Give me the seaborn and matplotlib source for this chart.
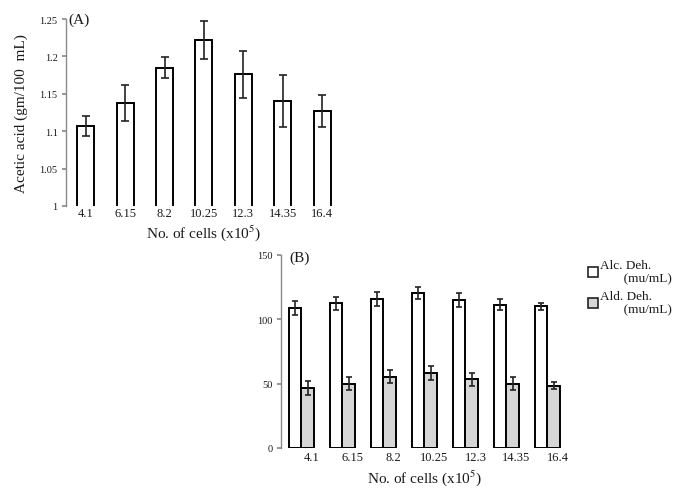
import matplotlib
matplotlib.use("Agg")
import matplotlib.pyplot as plt
import matplotlib.transforms as mtransforms
from matplotlib.patches import Patch
import seaborn as sns
import pandas as pd
import numpy as np

# ---- data ----
cells = ["4.1", "6.15", "8.2", "10.25", "12.3", "14.35", "16.4"]
acetic = [1.107, 1.138, 1.185, 1.222, 1.176, 1.140, 1.127]
acetic_err = [0.013, 0.024, 0.014, 0.025, 0.031, 0.035, 0.021]
alc = [108.5, 112.5, 116.0, 120.5, 115.0, 111.5, 110.0]
alc_err = [5.5, 5.0, 5.5, 5.0, 5.5, 4.5, 2.5]
ald = [46.5, 50.0, 55.5, 58.5, 53.5, 50.0, 48.5]
ald_err = [5.5, 5.0, 5.0, 5.5, 5.0, 5.0, 3.0]
series = ["Alc. Deh.\n       (mu/mL)", "Ald. Deh.\n       (mu/mL)"]
yticksA = [1, 1.05, 1.1, 1.15, 1.2, 1.25]
yticksB = [0, 50, 100, 150]

sns.set_theme(style="white")
plt.rcParams["font.family"] = ["Liberation Serif", "DejaVu Serif"]
plt.rcParams["mathtext.fontset"] = "stix"

fig = plt.figure(figsize=(6.83, 4.89), dpi=100)
axA = fig.add_axes([0.0966, 0.5767, 0.404, 0.3824])
axB = fig.add_axes([0.4114, 0.0818, 0.4202, 0.3947])

txt = "#1a1a1a"
spine_c = "#8a8a8a"

# ---- panel A ----
dfA = pd.DataFrame({"cells": cells, "acetic": acetic})
sns.barplot(data=dfA, x="cells", y="acetic", order=cells, color="white",
            edgecolor="black", linewidth=1.4, width=0.43, errorbar=None,
            ax=axA, saturation=1)
xs = [p.get_x() + p.get_width() / 2 for p in axA.patches]
axA.errorbar(xs, acetic, yerr=acetic_err, fmt="none", ecolor="#222222",
             elinewidth=1.2, capsize=3, capthick=1.2)
axA.set_ylim(1, 1.25)
axA.set_xlim(-0.5, 6.5)
axA.set_yticks(yticksA)
axA.set_yticklabels([f"{v:g}" for v in yticksA], fontsize=7.5, color=txt)
axA.set_xticks(range(len(cells)))
axA.set_xticklabels(cells, fontsize=9, color=txt)
axA.tick_params(axis="x", length=0, pad=1)
axA.tick_params(axis="y", left=True, length=3, color=spine_c, pad=3)
axA.set_xlabel("No. of cells (x10$^5$)", fontsize=11, color=txt, labelpad=2)
axA.set_ylabel("Acetic acid (gm/100  mL)", fontsize=11, color=txt, labelpad=8)
for s in ["top", "right", "bottom"]:
    axA.spines[s].set_visible(False)
axA.spines["left"].set_color(spine_c)
axA.spines["left"].set_linewidth(1.0)
axA.text(0.01, 1.0, "(A)", transform=axA.transAxes, fontsize=11, color=txt,
         ha="left", va="center")

# ---- panel B ----
dfB = pd.DataFrame({
    "cells": cells * 2,
    "value": alc + ald,
    "enzyme": [series[0]] * len(cells) + [series[1]] * len(cells),
})
sns.barplot(data=dfB, x="cells", y="value", hue="enzyme", order=cells,
            hue_order=series, palette=["white", "#d6d6d6"], edgecolor="black",
            linewidth=1.4, width=0.6, errorbar=None, ax=axB, saturation=1,
            legend=False)
for cont, vals, errs in zip(axB.containers, [alc, ald], [alc_err, ald_err]):
    bx = [p.get_x() + p.get_width() / 2 for p in cont]
    axB.errorbar(bx, vals, yerr=errs, fmt="none", ecolor="#222222",
                 elinewidth=1.2, capsize=2.5, capthick=1.2)
axB.set_ylim(0, 150)
axB.set_xlim(-0.5, 6.5)
axB.set_yticks(yticksB)
axB.set_yticklabels([str(v) for v in yticksB], fontsize=7.5, color=txt)
axB.set_xticks(range(len(cells)))
axB.set_xticklabels(cells, fontsize=9, color=txt)
axB.tick_params(axis="x", length=0, pad=2)
axB.tick_params(axis="y", left=True, length=3, color=spine_c, pad=3)
offset = mtransforms.ScaledTranslation(10 / 100, 0, fig.dpi_scale_trans)
for lab in axB.get_xticklabels():
    lab.set_transform(lab.get_transform() + offset)
axB.set_xlabel("No. of cells (x10$^5$)", fontsize=11, color=txt, labelpad=3)
axB.set_ylabel("")
for s in ["top", "right", "bottom"]:
    axB.spines[s].set_visible(False)
axB.spines["left"].set_color(spine_c)
axB.spines["left"].set_linewidth(1.0)
axB.text(0.03, 0.99, "(B)", transform=axB.transAxes, fontsize=11, color=txt,
         ha="left", va="center")

handles = [Patch(facecolor="white", edgecolor="#222222", linewidth=1.2),
           Patch(facecolor="#d6d6d6", edgecolor="#222222", linewidth=1.2)]
fig.legend(handles, series, loc="upper left", bbox_to_anchor=(0.843, 0.493),
           frameon=False, fontsize=9.5, handlelength=0.8, handleheight=0.8,
           handletextpad=0.15, labelspacing=0.4, labelcolor=txt)

fig.savefig("out.png", dpi=100)
